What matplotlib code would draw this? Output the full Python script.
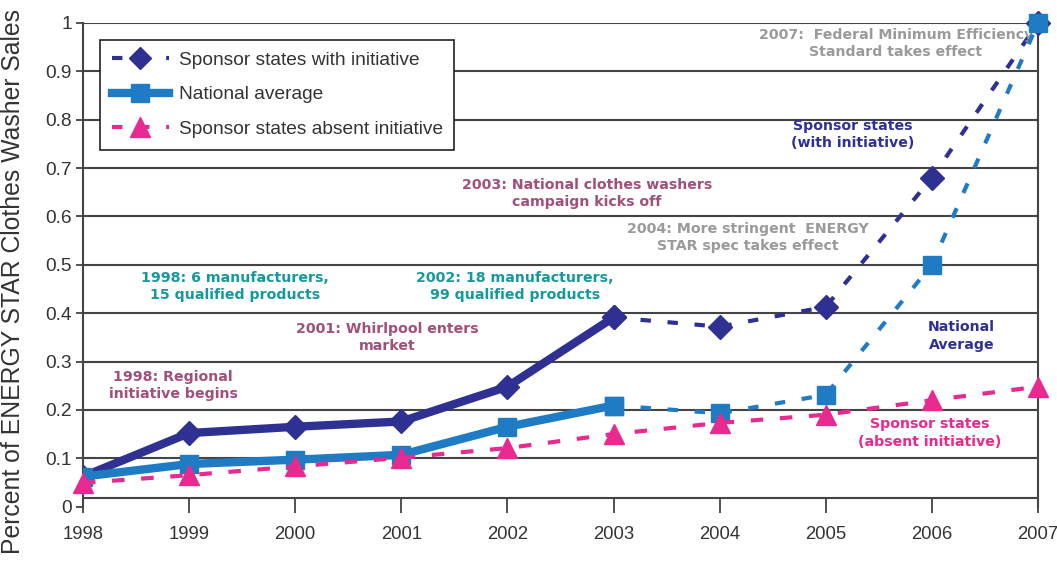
import matplotlib
matplotlib.use("Agg")
import matplotlib.pyplot as plt
from matplotlib.lines import Line2D

years = [1998, 1999, 2000, 2001, 2002, 2003, 2004, 2005, 2006, 2007]
with_initiative = [0.062, 0.152, 0.165, 0.176, 0.248, 0.391, 0.372, 0.413, 0.68, 1.0]
national_avg = [0.062, 0.088, 0.097, 0.107, 0.165, 0.209, 0.193, 0.231, 0.50, 1.0]
absent_initiative = [0.049, 0.065, 0.083, 0.101, 0.121, 0.15, 0.173, 0.19, 0.22, 0.248]
split = 5  # index of 2003, where the solid (actual) part ends

y_ticks = [0, 0.1, 0.2, 0.3, 0.4, 0.5, 0.6, 0.7, 0.8, 0.9, 1]
y_ticklabels = ["0", "0.1", "0.2", "0.3", "0.4", "0.5", "0.6", "0.7", "0.8", "0.9", "1"]

NAVY = "#2e3192"
BLUE = "#1f7bc4"
PINK = "#e8298f"
TEAL = "#16999c"
MAUVE = "#a24f7c"
GRAY = "#9a9a9a"

plt.rcParams['font.family'] = ['Liberation Sans', 'DejaVu Sans']

fig = plt.figure(figsize=(10.57, 5.69), dpi=100)
ax = fig.add_axes([0.0785, 0.1097, 0.9035, 0.8499])

# spine position first: it resets the ticks
for s in ["left", "right", "bottom"]:
    ax.spines[s].set_color("#444444")
    ax.spines[s].set_linewidth(1.5)
ax.spines["top"].set_visible(False)
ax.spines["bottom"].set_position(("data", 0.018))

# grid lines
for v in y_ticks[1:]:
    ax.axhline(v, color="#444444", lw=1.5, zorder=1)

dash = (0, (2.5, 4))

# sponsor states with initiative
ax.plot(years[:split + 1], with_initiative[:split + 1], color=NAVY, lw=6,
        marker="D", ms=12, solid_joinstyle="round", zorder=3)
ax.plot(years[split:], with_initiative[split:], color=NAVY, lw=3, ls=dash,
        marker="D", ms=12, zorder=3, clip_on=False)

# national average
ax.plot(years[:split + 1], national_avg[:split + 1], color=BLUE, lw=6,
        marker="s", ms=13, solid_joinstyle="round", zorder=4)
ax.plot(years[split:], national_avg[split:], color=BLUE, lw=3, ls=dash,
        marker="s", ms=13, zorder=4, clip_on=False)

# sponsor states absent initiative
ax.plot(years, absent_initiative, color=PINK, lw=3, ls=(0, (3, 4)),
        marker="^", ms=15, zorder=5, clip_on=False)

ax.set_xlim(1998, 2007)
ax.set_ylim(0, 1)
ax.set_xticks(years)
ax.set_xticklabels([str(y) for y in years], fontsize=13.3, color="#333333")
ax.set_yticks(y_ticks)
ax.set_yticklabels(y_ticklabels, fontsize=13.8, color="#333333")
ax.tick_params(axis="x", direction="out", length=11, width=1.2, pad=9, color="#333333")
ax.tick_params(axis="y", direction="out", length=5, width=1.2, pad=3, color="#333333")

ax.set_ylabel("Percent of ENERGY STAR Clothes Washer Sales", fontsize=17.8,
              color="#333333")
ax.yaxis.set_label_coords(-0.061, 0.465)

# annotations
ann = dict(ha="center", va="center", fontsize=10.2, fontweight="bold",
           family="DejaVu Sans", linespacing=1.3)
ax.text(1999.43, 0.455, "1998: 6 manufacturers,\n15 qualified products", color=TEAL, **ann)
ax.text(2002.07, 0.455, "2002: 18 manufacturers,\n99 qualified products", color=TEAL, **ann)
ax.text(2002.75, 0.648, "2003: National clothes washers\ncampaign kicks off", color=MAUVE, **ann)
ax.text(2004.27, 0.557, "2004: More stringent  ENERGY\nSTAR spec takes effect", color=GRAY, **ann)
ax.text(2005.66, 0.957, "2007:  Federal Minimum Efficiency\nStandard takes effect", color=GRAY, **ann)
ax.text(2005.25, 0.77, "Sponsor states\n(with initiative)", color=NAVY, **ann)
ax.text(2006.28, 0.353, "National\nAverage", color=NAVY, **ann)
ax.text(2005.98, 0.152, "Sponsor states\n(absent initiative)", color=PINK, **ann)
ax.text(2000.87, 0.35, "2001: Whirlpool enters\nmarket", color=MAUVE, **ann)
ax.text(1998.85, 0.25, "1998: Regional\ninitiative begins", color=MAUVE, **ann)

# legend
handles = [
    Line2D([], [], color=NAVY, lw=3, ls=dash, marker="D", ms=11),
    Line2D([], [], color=BLUE, lw=6, marker="s", ms=13),
    Line2D([], [], color=PINK, lw=3, ls=dash, marker="^", ms=15),
]
labels = ["Sponsor states with initiative", "National average",
          "Sponsor states absent initiative"]
leg = ax.legend(handles, labels, loc="upper left", bbox_to_anchor=(0.018, 0.965),
                borderaxespad=0, fancybox=False, framealpha=1, edgecolor="#222222",
                fontsize=13.8, handlelength=3.0, handletextpad=0.5, labelspacing=0.9,
                borderpad=0.6, numpoints=1)
leg.get_frame().set_linewidth(1.2)
leg.set_zorder(6)
for t in leg.get_texts():
    t.set_color("#333333")

fig.savefig("out.png", dpi=100)
